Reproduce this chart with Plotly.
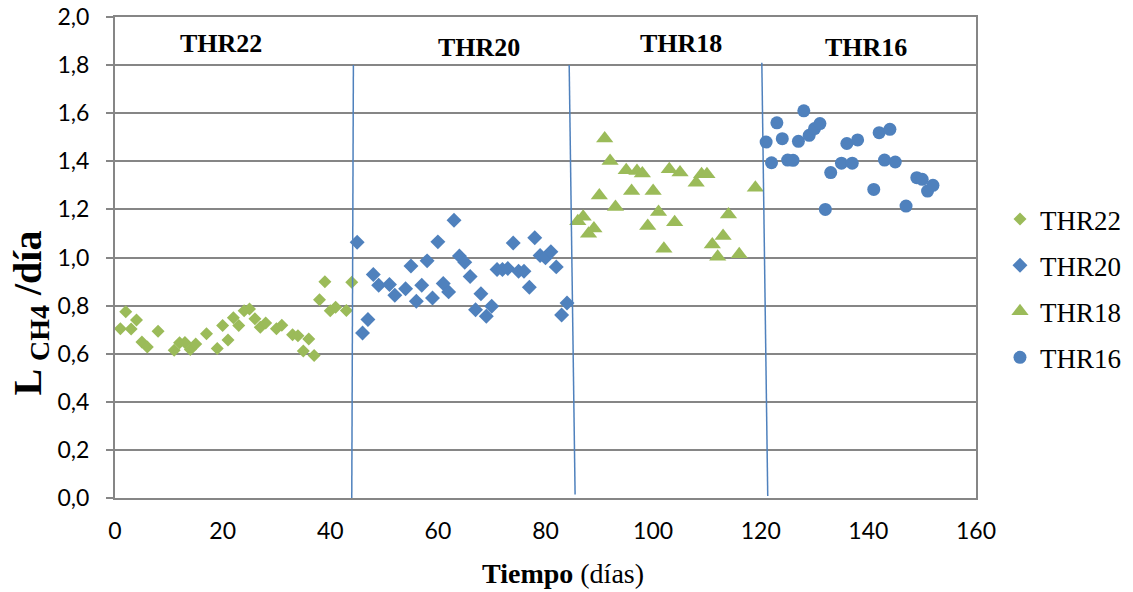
import plotly.graph_objects as go

# ---- data ----
thr22_days = [1, 2, 3, 4, 5, 6, 8, 11, 12, 13, 14, 15, 17, 19, 20, 21, 22, 23, 24, 25, 26, 27,
              28, 30, 31, 33, 34, 35, 36, 37, 38, 39, 40, 41, 43, 44]
thr22_vals = [0.704, 0.774, 0.703, 0.740, 0.649, 0.628, 0.693, 0.614, 0.646, 0.647, 0.617, 0.640,
              0.683, 0.622, 0.717, 0.657, 0.750, 0.717, 0.779, 0.786, 0.745, 0.710, 0.728, 0.704,
              0.718, 0.679, 0.675, 0.611, 0.661, 0.593, 0.824, 0.899, 0.779, 0.793, 0.780, 0.897]

thr20_days = [45, 46, 47, 48, 49, 51, 52, 54, 55, 56, 57, 58, 59, 60, 61, 62, 63, 64, 65, 66, 67,
              68, 69, 70, 71, 72, 73, 74, 75, 76, 77, 78, 79, 80, 81, 82, 83, 84]
thr20_vals = [1.063, 0.686, 0.742, 0.929, 0.885, 0.888, 0.843, 0.870, 0.965, 0.818, 0.885, 0.986,
              0.832, 1.065, 0.892, 0.857, 1.155, 1.006, 0.980, 0.921, 0.783, 0.849, 0.756, 0.797,
              0.950, 0.950, 0.954, 1.060, 0.943, 0.943, 0.876, 1.082, 1.008, 0.999, 1.024, 0.961,
              0.761, 0.811]

thr18_days = [86, 87, 88, 89, 90, 91, 92, 93, 95, 96, 97, 98, 99, 100, 101, 102, 103, 104, 105,
              108, 109, 110, 111, 112, 113, 114, 116, 119]
thr18_vals = [1.151, 1.169, 1.099, 1.121, 1.258, 1.495, 1.401, 1.210, 1.363, 1.276, 1.360, 1.349,
              1.131, 1.276, 1.189, 1.036, 1.367, 1.147, 1.353, 1.311, 1.346, 1.346, 1.054, 1.003,
              1.089, 1.179, 1.013, 1.290]

thr16_days = [121, 122, 123, 124, 125, 126, 127, 128, 129, 130, 131, 132, 133, 135, 136, 137, 138,
              141, 142, 143, 144, 145, 147, 149, 150, 151, 152]
thr16_vals = [1.480, 1.394, 1.560, 1.494, 1.405, 1.404, 1.483, 1.610, 1.508, 1.536, 1.557, 1.200,
              1.353, 1.392, 1.474, 1.392, 1.489, 1.283, 1.519, 1.405, 1.533, 1.397, 1.214, 1.332,
              1.325, 1.276, 1.300]

series_names = ["THR22", "THR20", "THR18", "THR16"]
phase_labels = ["THR22", "THR20", "THR18", "THR16"]

GREEN = "#9BBB59"
BLUE = "#4F81BD"
GRAY = "#868686"
SERIF = "Liberation Serif"
SANS = "Lato"

fig = go.Figure()
specs = [
    (thr22_days, thr22_vals, "diamond", GREEN, 10),
    (thr20_days, thr20_vals, "diamond", BLUE, 11.5),
    (thr18_days, thr18_vals, "triangle-up", GREEN, 15),
    (thr16_days, thr16_vals, "circle", BLUE, 13),
]
for name, (xs, ys, sym, col, sz) in zip(series_names, specs):
    fig.add_trace(go.Scatter(
        x=xs, y=ys, mode="markers", name=name, legendgroup=name,
        marker=dict(symbol=sym, color=col, size=sz, line=dict(width=0)),
    ))

# phase separator lines (data coordinates: day, value)
separators = [((44.3, 1.80), (44.0, 0.0)),
              ((84.4, 1.80), (85.5, 0.015)),
              ((120.2, 1.81), (121.3, 0.008))]
for (x0, y0), (x1, y1) in separators:
    fig.add_shape(type="line", xref="x", yref="y", x0=x0, y0=y0, x1=x1, y1=y1,
                  line=dict(color=BLUE, width=1.5))

label_pos = [(19.7, 1.89), (67.7, 1.875), (105.2, 1.89), (139.6, 1.875)]
for txt, (lx, ly) in zip(phase_labels, label_pos):
    fig.add_annotation(x=lx, y=ly, xref="x", yref="y", text=f"<b>{txt}</b>", showarrow=False,
                       font=dict(family=SERIF, size=26, color="black"),
                       xanchor="center", yanchor="middle")

# axis titles
fig.add_annotation(x=-0.099, y=0.385, xref="paper", yref="paper",
                   text="<b>L <sub>CH4</sub> /día</b>", textangle=-90, showarrow=False,
                   font=dict(family=SERIF, size=40, color="black"),
                   xanchor="center", yanchor="middle")
fig.add_annotation(x=0.52, y=-0.158, xref="paper", yref="paper",
                   text="<b>Tiempo</b> (días)", showarrow=False,
                   font=dict(family=SERIF, size=28, color="black"),
                   xanchor="center", yanchor="middle")

fig.update_layout(
    width=1133, height=592, autosize=False,
    margin=dict(l=115, r=157, t=17, b=94, autoexpand=False),
    paper_bgcolor="white", plot_bgcolor="white",
    separators=",.",
    showlegend=True,
    legend=dict(xref="container", yref="container", x=0.8826, y=0.6706,
                xanchor="left", yanchor="top",
                font=dict(family=SERIF, size=27, color="black"),
                tracegroupgap=8, traceorder="grouped",
                bgcolor="rgba(0,0,0,0)", itemsizing="trace"),
    xaxis=dict(range=[0, 160], dtick=20, tick0=0, showgrid=False, zeroline=False,
               showline=True, linecolor=GRAY, linewidth=2, mirror=True,
               ticks="", ticklabelstandoff=11, automargin=False,
               tickfont=dict(family=SANS, size=23, color="black")),
    yaxis=dict(range=[0, 2], dtick=0.2, tick0=0, tickformat=".1f", showgrid=True,
               gridcolor=GRAY, gridwidth=1.5, zeroline=False,
               showline=True, linecolor=GRAY, linewidth=2, mirror=True,
               ticks="outside", ticklen=7, tickcolor=GRAY, tickwidth=1.5,
               ticklabelstandoff=12, automargin=False,
               tickfont=dict(family=SANS, size=23, color="black")),
)

fig.write_html("out.html")
